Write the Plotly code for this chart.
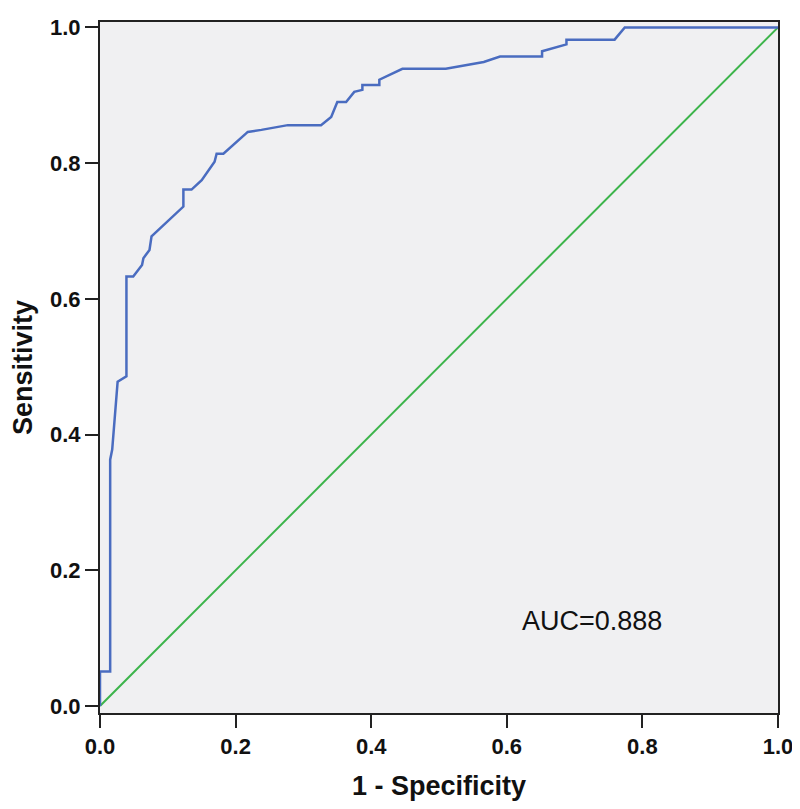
import plotly.graph_objects as go

# ROC curve points
fpr = [0.0, 0.0, 0.015, 0.015, 0.018, 0.026, 0.039, 0.039, 0.049, 0.062, 0.064, 0.073,
       0.076, 0.123, 0.123, 0.135, 0.15, 0.169, 0.172, 0.182, 0.218, 0.238, 0.277, 0.326,
       0.341, 0.35, 0.363, 0.375, 0.387, 0.387, 0.412, 0.412, 0.446, 0.51, 0.566, 0.59,
       0.652, 0.652, 0.688, 0.688, 0.759, 0.774, 1.0]
tpr = [0.0, 0.051, 0.051, 0.363, 0.378, 0.478, 0.486, 0.633, 0.633, 0.65, 0.66, 0.672,
       0.692, 0.736, 0.761, 0.761, 0.775, 0.802, 0.814, 0.814, 0.846, 0.849, 0.856, 0.856,
       0.868, 0.89, 0.89, 0.905, 0.908, 0.915, 0.915, 0.923, 0.939, 0.939, 0.949, 0.957,
       0.957, 0.965, 0.975, 0.982, 0.982, 1.0, 1.0]
ref_line = [0.0, 1.0]
auc_text = "AUC=0.888"
ticks = [0.0, 0.2, 0.4, 0.6, 0.8, 1.0]

fig = go.Figure()

# chance line
fig.add_trace(go.Scatter(x=ref_line, y=ref_line, mode="lines",
                         line=dict(color="#3cb44b", width=2), hoverinfo="skip"))

# ROC curve
fig.add_trace(go.Scatter(x=fpr, y=tpr, mode="lines",
                         line=dict(color="#4a6cc0", width=2.5)))

fig.add_annotation(x=0.62, y=0.126, text=auc_text, showarrow=False, xanchor="left",
                   font=dict(family="Liberation Sans", size=27, color="#111"))

tickfont = dict(family="Liberation Sans Narrow, Liberation Sans", size=22, color="#111")
titlefont = dict(family="Liberation Sans", size=27, color="#111")
ticktext = ["<b>%.1f</b>" % t for t in ticks]

fig.update_xaxes(range=[0, 1], tickvals=ticks, ticktext=ticktext,
                 ticks="outside", ticklen=13, tickwidth=2, tickcolor="#222",
                 showline=True, linecolor="#222", linewidth=2, mirror=True,
                 showgrid=False, zeroline=False, tickfont=tickfont,
                 automargin=False, ticklabeloverflow="allow",
                 title=dict(text="<b>1 - Specificity</b>", font=titlefont, standoff=22))
# SPSS leaves a small gap between the 0/1 ticks and the frame
fig.update_yaxes(range=[-0.0103, 1.008], tickvals=ticks, ticktext=ticktext,
                 ticks="outside", ticklen=13, tickwidth=2, tickcolor="#222",
                 showline=True, linecolor="#222", linewidth=2, mirror=True,
                 showgrid=False, zeroline=False, tickfont=tickfont,
                 automargin=False, ticklabeloverflow="allow",
                 title=dict(text="<b>Sensitivity</b>", font=titlefont, standoff=10))

# the page body adds an 8px offset; width runs to the window edge so "1.0" fits
fig.update_layout(width=792, height=793, showlegend=False,
                  plot_bgcolor="#f0f0f2", paper_bgcolor="white",
                  margin=dict(l=92, r=22, t=14, b=88))

fig.write_html("out.html")
